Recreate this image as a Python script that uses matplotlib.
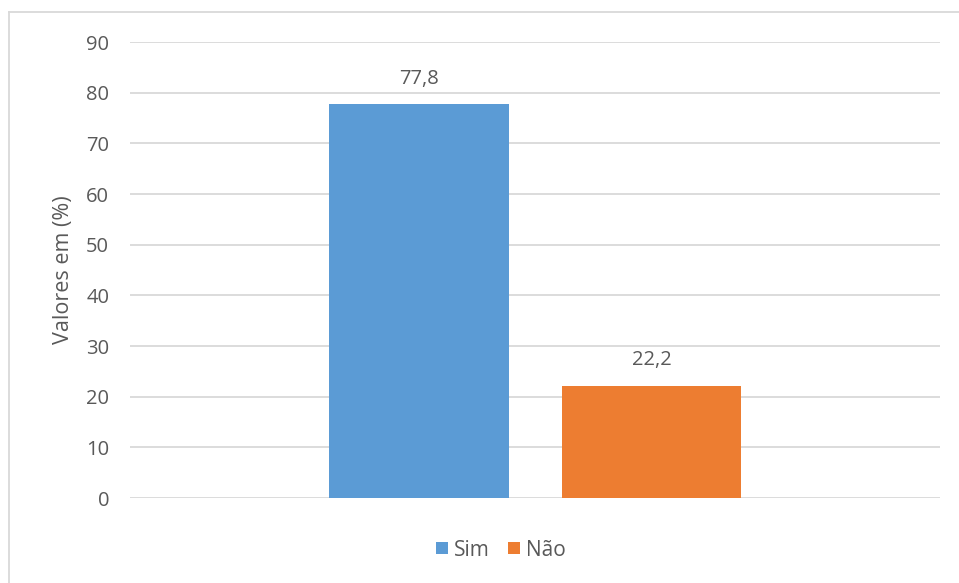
import matplotlib
matplotlib.use("Agg")
import matplotlib.pyplot as plt
from matplotlib.lines import Line2D

series = ["Sim", "Não"]
values = [77.8, 22.2]
labels = ["77,8", "22,2"]
colors = ["#5B9BD5", "#ED7D31"]
yticks = [0, 10, 20, 30, 40, 50, 60, 70, 80, 90]

plt.rcParams['font.family'] = ['Open Sans', 'DejaVu Sans']
txt = "#595959"

W, H = 959, 583
fig = plt.figure(figsize=(W/100, H/100), dpi=100)
ax = fig.add_axes([130/W, (H-498)/H, 810/W, (498-42)/H])

offsets = [-0.143, 0.1438]
width = 0.222
for s, v, lab, c, o in zip(series, values, labels, colors, offsets):
    ax.bar(o, v, width=width, color=c, label=s, zorder=3)
    ax.text(o, v + 3.0, lab, ha="center", va="bottom", fontsize=14.5, color=txt)

ax.set_xlim(-0.5, 0.5)
ax.set_ylim(0, 90)
ax.set_yticks(yticks)
ax.set_yticklabels([str(t) for t in yticks], fontsize=14.5, color=txt)
ax.set_xticks([])
ax.tick_params(axis="y", length=0, pad=15)
ax.grid(axis="y", color="#D9D9D9", linewidth=1.3, zorder=0)
for sp in ax.spines.values():
    sp.set_visible(False)
ax.set_ylabel("Valores em (%)", fontsize=15.5, color=txt, labelpad=9)

leg = ax.legend(loc="center", bbox_to_anchor=(501/W, (H-550)/H), bbox_transform=fig.transFigure,
                ncol=2, frameon=False, fontsize=15, handlelength=0.55, handleheight=0.55,
                handletextpad=0.3, columnspacing=0.9, labelcolor=txt)

# chart border (left and top visible)
fig.add_artist(Line2D([9/W, 9/W], [0, 1 - 12/H], transform=fig.transFigure, color="#D9D9D9", linewidth=1.3))
fig.add_artist(Line2D([9/W, 1], [1 - 12/H, 1 - 12/H], transform=fig.transFigure, color="#D9D9D9", linewidth=1.3))

fig.savefig("out.png", dpi=100)
